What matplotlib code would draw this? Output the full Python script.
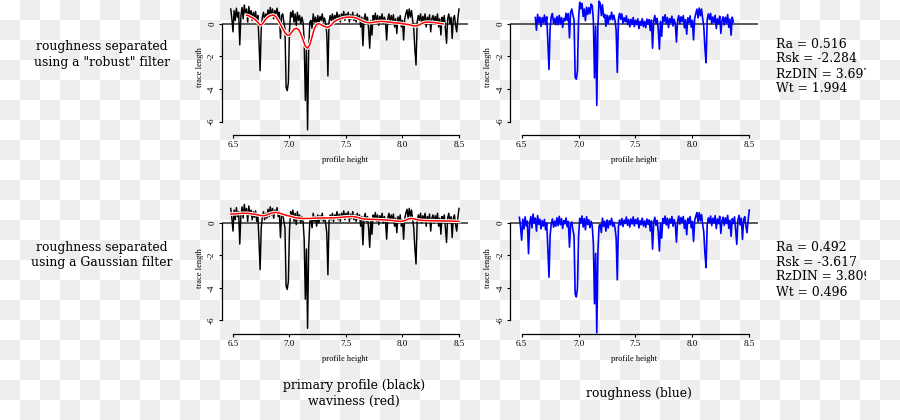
import numpy as np
import matplotlib
matplotlib.use("Agg")
import matplotlib.pyplot as plt
from matplotlib.colors import ListedColormap

plt.rcParams['axes.unicode_minus'] = False
plt.rcParams['font.family'] = ['Liberation Serif', 'DejaVu Serif']

# ---------------- data ----------------
PROFILE_X0, PROFILE_DX = 6.48, 0.01
primary_profile = [
    0.9, 0.3,
    -0.5, 0.8, 0.2, 0.95, 0.4, 0.7, -1.3, 0.5, 1.0, 0.3,
    1.15, 0.6, 0.9, 0.1, 1.05, 0.5, 0.8, 0.2, 0.7, 0.35,
    0.75, 0.1, 0.5, -1.1, -2.88, -0.3, 0.4, 0.7, 0.2, 0.6,
    0.3, 0.85, 0.4, 1.0, 0.5, 0.9, 0.3, 0.8, 0.6, 0.95,
    0.4, 0.7, -0.9, 0.5, 0.6, 0.1, -0.3, -3.9, -4.1, -3.6,
    -0.4, 0.7, 0.4, 0.8, 0.1, 0.6, -0.1, 0.7, 0.2, 0.5,
    0.0, 0.4, 0.1, -1.0, -4.7, -1.6, -6.5, -1.5, 0.1, 0.2,
    -0.3, 0.6, 0.1, 0.4, -0.2, 0.5, 0.0, 0.45, 0.2, 0.6,
    0.1, 0.35, 0.0, -0.6, -3.2, 0.1, 0.5, 0.2, 0.6, 0.1,
    0.5, 0.3, 0.7, 0.2, 0.55, 0.1, 0.6, 0.3, 0.75, 0.2,
    0.6, 0.35, 0.7, 0.1, 0.55, 0.3, 0.7, 0.2, 0.5, 0.1,
    0.6, 0.25, 0.5, -0.2, 0.4, -1.35, 0.3, 0.6, 0.1, 0.4,
    -0.3, -1.5, 0.2, -0.7, 0.5, 0.2, 0.65, 0.1, 0.5, -0.1,
    0.45, 0.2, 0.6, 0.0, 0.4, 0.1, -1.0, 0.3, 0.6, 0.1,
    0.5, 0.2, 0.55, -0.2, 0.3, -0.6, 0.4, 0.1, 0.5, -0.2,
    0.2, -1.0, 0.3, 0.6, 0.85, 0.3, 0.9, 0.4, 0.8, 0.2,
    -0.3, -1.6, -2.53, 0.1, 0.5, 0.2, 0.6, 0.0, 0.45, 0.15,
    0.6, -0.2, 0.4, 0.1, 0.55, -0.5, 0.3, 0.5, 0.0, 0.45,
    0.1, 0.6, -0.2, 0.3, -0.69, 0.4, 0.1, 0.5, -0.3, -1.2,
    0.3, 0.6, 0.0, 0.4, -0.9, 0.3, 0.5, -0.1, -0.5, 0.3,
    0.9,
]

ROBUST_W_X0, ROBUST_W_DX = 6.62, 0.02
robust_waviness = [
    0.52, 0.48, 0.40, 0.33, 0.22, 0.08, -0.08, -0.02, 0.18, 0.36,
    0.46, 0.51, 0.53, 0.42, 0.20, -0.04, -0.30, -0.55, -0.70, -0.70,
    -0.52, -0.34, -0.28, -0.36, -0.62, -1.00, -1.38, -1.50, -1.28, -0.80,
    -0.30, -0.04, 0.00, -0.06, -0.14, -0.20, -0.22, -0.14, 0.00, 0.14,
    0.22, 0.28, 0.33, 0.37, 0.39, 0.40, 0.40, 0.39, 0.37, 0.32,
    0.25, 0.18, 0.12, 0.08, 0.06, 0.06, 0.08, 0.10, 0.12, 0.14,
    0.14, 0.13, 0.12, 0.10, 0.08, 0.06, 0.05, 0.04, 0.02, 0.00,
    -0.02, -0.04, -0.06, -0.10, -0.13, -0.14, -0.10, -0.03, 0.04, 0.09,
    0.10, 0.09, 0.08, 0.07, 0.05, 0.03, 0.01, -0.01,
]

ROBUST_R_X0, ROBUST_R_DX = 6.62, 0.01
robust_roughness = [
    0.38, -0.40, 0.57, 0.06, 0.40, -0.17, 0.37, 0.07,
    0.53, -0.05, 0.42, -1.10, -2.80, -0.25, 0.42, 0.62, 0.02, 0.33,
    -0.06, 0.44, -0.06, 0.51, -0.01, 0.38, -0.23, 0.32, 0.18, 0.64,
    0.20, 0.62, -0.86, 0.67, 0.90, 0.52, 0.25, -3.27, -3.40, -2.89,
    0.30, 1.31, 0.92, 1.23, 0.44, 0.90, 0.18, 1.01, 0.56, 0.98,
    0.62, 1.20, 1.10, 0.19, -3.32, -0.15, -5.00, -0.10, 1.38, 1.25,
    0.50, 1.15, 0.40, 0.57, -0.16, 0.52, 0.00, 0.48, 0.26, 0.70,
    0.24, 0.52, 0.20, -0.39, -2.98, 0.28, 0.64, 0.27, 0.60, 0.03,
    0.36, 0.12, 0.48, -0.05, 0.27, -0.20, 0.27, -0.05, 0.38, -0.18,
    0.21, -0.05, 0.30, -0.30, 0.15, -0.10, 0.31, -0.18, 0.13, -0.25,
    0.28, -0.04, 0.25, -0.42, 0.22, -1.50, 0.18, 0.50, 0.02, 0.33,
    -0.36, -1.56, 0.14, -0.77, 0.42, 0.11, 0.55, -0.01, 0.38, -0.23,
    0.31, 0.06, 0.46, -0.14, 0.27, -0.02, -1.12, 0.19, 0.50, 0.01,
    0.42, 0.13, 0.49, -0.25, 0.25, -0.64, 0.36, 0.07, 0.48, -0.21,
    0.20, -0.99, 0.32, 0.63, 0.89, 0.35, 0.96, 0.48, 0.90, 0.32,
    -0.17, -1.46, -2.39, 0.22, 0.60, 0.27, 0.63, 0.00, 0.41, 0.08,
    0.51, -0.30, 0.30, 0.00, 0.46, -0.59, 0.22, 0.42, -0.07, 0.39,
    0.05, 0.56, -0.23, 0.28, -0.70, 0.40, 0.11,
]

GAUSS_W_X0, GAUSS_W_DX = 6.48, 0.02
gauss_waviness = [
    0.55, 0.56, 0.57, 0.58, 0.59, 0.60, 0.60, 0.60, 0.59, 0.57,
    0.55, 0.53, 0.50, 0.47, 0.45, 0.46, 0.50, 0.56, 0.61, 0.64,
    0.65, 0.63, 0.59, 0.54, 0.50, 0.46, 0.43, 0.39, 0.35, 0.32,
    0.30, 0.29, 0.28, 0.28, 0.28, 0.28, 0.29, 0.30, 0.30, 0.31,
    0.31, 0.31, 0.31, 0.31, 0.32, 0.32, 0.32, 0.33, 0.34, 0.35,
    0.37, 0.38, 0.39, 0.40, 0.40, 0.38, 0.35, 0.31, 0.27, 0.25,
    0.24, 0.23, 0.23, 0.22, 0.22, 0.21, 0.20, 0.20, 0.19, 0.18,
    0.17, 0.16, 0.15, 0.13, 0.11, 0.10, 0.11, 0.15, 0.21, 0.26,
    0.28, 0.26, 0.22, 0.19, 0.17, 0.16, 0.15, 0.15, 0.14, 0.14,
    0.14, 0.13, 0.13, 0.13, 0.13, 0.12, 0.12, 0.12, 0.11, 0.11,
    0.10, 0.10,
]

GAUSS_R_X0, GAUSS_R_DX = 6.48, 0.01
gauss_roughness = [
    0.35, -0.25,
    -1.06, 0.24, -0.37, 0.38, -0.18, 0.12, -1.89, -0.09, 0.40, -0.30,
    0.55, 0.00, 0.30, -0.50, 0.46, -0.08, 0.23, -0.36, 0.15, -0.19,
    0.22, -0.42, 0.00, -1.59, -3.35, -0.76, -0.05, 0.25, -0.26, 0.12,
    -0.20, 0.32, -0.16, 0.41, -0.11, 0.27, -0.34, 0.15, -0.05, 0.31,
    -0.23, 0.09, -1.49, -0.07, 0.06, -0.42, -0.80, -4.38, -4.56, -4.05,
    -0.83, 0.29, 0.01, 0.43, -0.25, 0.27, -0.42, 0.39, -0.10, 0.20,
    -0.29, 0.11, -0.18, -1.28, -4.98, -1.88, -6.78, -1.78, -0.18, -0.09,
    -0.59, 0.30, -0.20, 0.10, -0.50, 0.19, -0.31, 0.14, -0.11, 0.29,
    -0.21, 0.04, -0.31, -0.91, -3.51, -0.22, 0.18, -0.12, 0.28, -0.22,
    0.18, -0.03, 0.37, -0.14, 0.21, -0.25, 0.25, -0.06, 0.38, -0.18,
    0.22, -0.04, 0.31, -0.30, 0.15, -0.10, 0.30, -0.19, 0.12, -0.27,
    0.25, -0.08, 0.19, -0.49, 0.13, -1.61, 0.05, 0.35, -0.14, 0.16,
    -0.53, -1.73, -0.03, -0.93, 0.28, -0.02, 0.43, -0.12, 0.29, -0.31,
    0.25, 0.00, 0.40, -0.20, 0.21, -0.09, -1.18, 0.12, 0.43, -0.07,
    0.34, 0.04, 0.40, -0.34, 0.17, -0.72, 0.29, -0.01, 0.40, -0.30,
    0.09, -1.13, 0.15, 0.42, 0.64, 0.06, 0.64, 0.13, 0.52, -0.07,
    -0.56, -1.84, -2.75, -0.10, 0.31, 0.02, 0.43, -0.16, 0.29, 0.00,
    0.45, -0.35, 0.25, -0.04, 0.41, -0.64, 0.16, 0.36, -0.14, 0.32,
    -0.03, 0.47, -0.33, 0.17, -0.82, 0.27, -0.03, 0.38, -0.42, -1.32,
    0.18, 0.48, -0.12, 0.29, -1.01, 0.19, 0.39, -0.20, -0.60, 0.20,
    0.80,
]

x_ticks = [6.5, 7.0, 7.5, 8.0, 8.5]
x_tick_labels = ["6.5", "7.0", "7.5", "8.0", "8.5"]
y_ticks = [0, -2, -4, -6]
y_tick_labels = ["0", "-2", "-4", "-6"]
x_label = "profile height"
y_label = "trace length"

row_titles = ['roughness separated\nusing a "robust" filter',
              'roughness separated\nusing a Gaussian filter']
stat_names = ["Ra", "Rsk", "RzDIN", "Wt"]
robust_stats = [0.516, -2.284, 3.697, 1.994]
gauss_stats = [0.492, -3.617, 3.809, 0.496]
col_titles = ["primary profile (black)\nwaviness (red)", "roughness (blue)"]


def grid(x0, dx, vals):
    return x0 + dx * np.arange(len(vals))


# ---------------- layout ----------------
W, H = 900, 420
fig = plt.figure(figsize=(W / 100, H / 100), dpi=100)


def rect(x0, x1, y0, y1):
    return [x0 / W, 1 - y1 / H, (x1 - x0) / W, (y1 - y0) / H]


def fx(px):
    return px / W


def fy(py):
    return 1 - py / H


# checkerboard background (transparent-look)
bg = fig.add_axes([0, 0, 1, 1])
ii, jj = np.indices((H // 20, W // 20))
bg.imshow((ii + jj) % 2, cmap=ListedColormap(['#ffffff', '#eeeeee']),
          extent=(0, W, H, 0), interpolation='nearest', aspect='auto')
bg.set_axis_off()

SERIF_BIG = ['DejaVu Serif']


def panel(r, ylim):
    ax = fig.add_axes(r)
    ax.patch.set_alpha(0)
    ax.set_xlim(6.40, 8.58)
    ax.set_ylim(*ylim)
    for s in ['top', 'right']:
        ax.spines[s].set_visible(False)
    ax.spines['left'].set_bounds(-6, 0)
    ax.spines['bottom'].set_bounds(6.5, 8.5)
    for s in ['left', 'bottom']:
        ax.spines[s].set_linewidth(0.9)
    ax.set_xticks(x_ticks, x_tick_labels)
    ax.set_yticks(y_ticks, y_tick_labels)
    ax.tick_params(length=2.5, width=0.8, labelsize=6.5, pad=1.5)
    for lab in ax.get_yticklabels():
        lab.set_rotation(90)
        lab.set_va('center')
    ax.axhline(0, color='#4d4d4d', lw=1.3, zorder=1)
    return ax


LX0, LX1, RX0, RX1 = 221.7, 468.0, 510.3, 758.4
TY0, TY1, BY0, BY1 = 0, 135, 202.75, 334
ylim_top = (-6.816, 1.451)
ylim_bot = (-6.85, 1.25)

ax_tl = panel(rect(LX0, LX1, TY0, TY1), ylim_top)
ax_tr = panel(rect(RX0, RX1, TY0, TY1), ylim_top)
ax_bl = panel(rect(LX0, LX1, BY0, BY1), ylim_bot)
ax_br = panel(rect(RX0, RX1, BY0, BY1), ylim_bot)

xp = grid(PROFILE_X0, PROFILE_DX, primary_profile)
for ax in (ax_tl, ax_bl):
    ax.plot(xp, primary_profile, color='black', lw=1.05, zorder=2)

xw = grid(ROBUST_W_X0, ROBUST_W_DX, robust_waviness)
ax_tl.plot(xw, robust_waviness, color='white', lw=2.6, zorder=3)
ax_tl.plot(xw, robust_waviness, color='red', lw=1.1, zorder=4)

xg = grid(GAUSS_W_X0, GAUSS_W_DX, gauss_waviness)
ax_bl.plot(xg, gauss_waviness, color='white', lw=2.6, zorder=3)
ax_bl.plot(xg, gauss_waviness, color='red', lw=1.1, zorder=4)

ax_tr.plot(grid(ROBUST_R_X0, ROBUST_R_DX, robust_roughness), robust_roughness,
           color='#0000ff', lw=1.2, zorder=2)
ax_br.plot(grid(GAUSS_R_X0, GAUSS_R_DX, gauss_roughness), gauss_roughness,
           color='#0000ff', lw=1.2, zorder=2)

# axis labels
for (x0, x1) in ((LX0, LX1), (RX0, RX1)):
    for (y0, y1) in ((TY0, TY1), (BY0, BY1)):
        fig.text(fx((x0 + x1) / 2), fy(y1 + 25), x_label, ha='center',
                 va='center', fontsize=6)
        fig.text(fx(x0 - 22), fy((y0 + y1) / 2), y_label, ha='center',
                 va='center', rotation=90, fontsize=6)

# row titles
fig.text(fx(102), fy(54.5), row_titles[0], ha='center', va='center',
         fontsize=8.9, family=SERIF_BIG, linespacing=1.25)
fig.text(fx(102), fy(255), row_titles[1], ha='center', va='center',
         fontsize=8.9, family=SERIF_BIG, linespacing=1.25)

# stats (clipped at the right like the reference)
ax_txt = fig.add_axes(rect(770, 866, 0, H))
ax_txt.set_axis_off()
for vals, cy in ((robust_stats, 66.5), (gauss_stats, 269.5)):
    s = "\n".join(f"{n} = {v:.3f}" for n, v in zip(stat_names, vals))
    ax_txt.text(fx(776), fy(cy), s, transform=fig.transFigure, ha='left',
                va='center', fontsize=8.9, family=SERIF_BIG, linespacing=1.2,
                clip_on=True)

# column titles
fig.text(fx(354), fy(393.5), col_titles[0], ha='center', va='center',
         fontsize=8.9, family=SERIF_BIG, linespacing=1.2)
fig.text(fx(639), fy(393), col_titles[1], ha='center', va='center',
         fontsize=8.9, family=SERIF_BIG)

fig.savefig('out.png', dpi=100)
